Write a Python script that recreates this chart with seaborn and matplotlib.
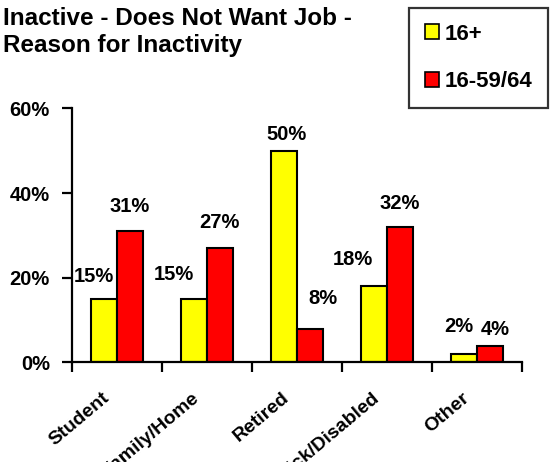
import matplotlib
matplotlib.use("Agg")
import matplotlib.pyplot as plt
import matplotlib.transforms as mtransforms
from matplotlib.patches import Patch
import seaborn as sns
import pandas as pd

# Reasons for inactivity among people who do not want a job
categories = ["Student", "Family/Home", "Retired", "Sick/Disabled", "Other"]
series_names = ["16+", "16-59/64"]
values_16plus = [15, 15, 50, 18, 2]
values_16_59 = [31, 27, 8, 32, 4]
y_ticks = [0, 20, 40, 60]
colors = ["#FFFF00", "#FF0000"]

# nudges (pixels) for value labels so they sit clear of neighbouring bars
label_nudge = {
    "16+": [(-10, 22), (-20, 24), (2, 16), (-21, 27), (-5, 28)],
    "16-59/64": [(0, 25), (0, 26), (13, 30), (0, 24), (5, 16)],
}

df = pd.DataFrame({
    "Reason": categories * 2,
    "Group": [series_names[0]] * len(categories) + [series_names[1]] * len(categories),
    "Value": values_16plus + values_16_59,
})

sns.set_theme(style="white")
plt.rcParams["font.family"] = ["Liberation Sans", "DejaVu Sans"]
plt.rcParams["font.weight"] = "bold"
for key in ["text.color", "xtick.color", "ytick.color", "axes.labelcolor"]:
    plt.rcParams[key] = "black"

fig = plt.figure(figsize=(5.5, 4.62), dpi=100)
ax = fig.add_axes([0.1309, 0.2154, 0.8182, 0.5498])

sns.barplot(data=df, x="Reason", y="Value", hue="Group", order=categories,
            hue_order=series_names, palette=colors, saturation=1, width=0.567,
            edgecolor="black", linewidth=1.5, legend=False, ax=ax)

ax.set_ylim(0, 60)
ax.set_xlim(-0.5, len(categories) - 0.5)
ax.set_yticks(y_ticks)
ax.set_yticklabels([f"{t}%" for t in y_ticks], fontsize=14.5, fontweight="bold")
ax.set_xlabel("")
ax.set_ylabel("")

# category boundaries carry the x ticks
ax.set_xticks([i - 0.5 for i in range(len(categories) + 1)])
ax.set_xticklabels([])
ax.tick_params(axis="x", direction="out", length=7, width=1.6, color="black", bottom=True)
ax.tick_params(axis="y", direction="out", length=7, width=1.6, color="black", left=True, pad=9)

for side in ["top", "right"]:
    ax.spines[side].set_visible(False)
for side in ["left", "bottom"]:
    ax.spines[side].set_color("black")
    ax.spines[side].set_linewidth(1.6)

# rotated category names
offset = mtransforms.ScaledTranslation(-7 / 72, -24 / 72, fig.dpi_scale_trans)
for i, name in enumerate(categories):
    ax.text(i, 0, name, rotation=40, ha="right", va="center", rotation_mode="anchor",
            fontsize=14, fontweight="bold",
            transform=ax.get_xaxis_transform() + offset, clip_on=False)

# value labels above each bar
for container, group in zip(ax.containers, series_names):
    for bar, value, (dx, dy) in zip(container.patches, container.datavalues, label_nudge[group]):
        ax.annotate(f"{value:.0f}%", xy=(bar.get_x() + bar.get_width() / 2, bar.get_height()),
                    xytext=(dx * 0.72, dy * 0.72), textcoords="offset points",
                    ha="center", va="center", fontsize=14.5, fontweight="bold")

fig.text(0.006, 0.985, "Inactive - Does Not Want Job -\nReason for Inactivity",
         ha="left", va="top", fontsize=17.5, fontweight="bold", linespacing=1.25)

handles = [Patch(facecolor=c, edgecolor="black", linewidth=1.2) for c in colors]
leg = fig.legend(handles, series_names, loc="upper left",
                 bbox_to_anchor=(409 / 550, 1 - 8 / 462),
                 frameon=True, fancybox=False, handlelength=0.64, handleheight=0.64,
                 handletextpad=0.25, labelspacing=1.2, borderpad=0.7,
                 borderaxespad=0, prop={"weight": "bold", "size": 16})
leg.get_frame().set_edgecolor("black")
leg.get_frame().set_linewidth(1.6)

fig.savefig("out.png", dpi=100)
